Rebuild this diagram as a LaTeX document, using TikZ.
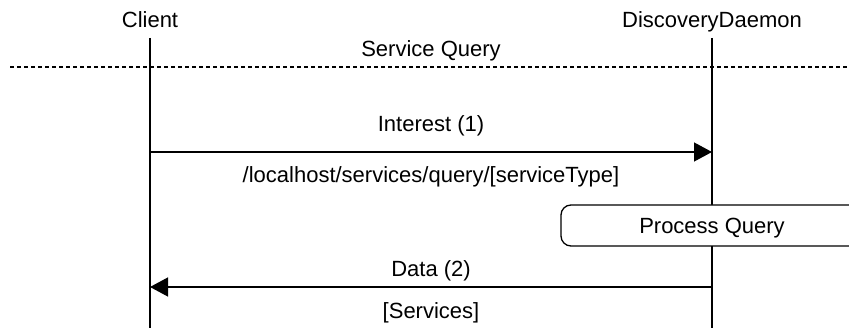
\documentclass[tikz,border=0pt]{standalone}
\usepackage{fontspec}
\setmainfont{Liberation Sans}
\usetikzlibrary{arrows.meta}
\begin{document}
\begin{tikzpicture}[x=1pt,y=-1pt,
  lbl/.style={anchor=base,inner sep=0pt,font=\fontsize{22}{26}\selectfont},
  life/.style={line width=1.3pt},
  msg/.style={line width=1.3pt,-{Triangle[length=18pt,width=19pt]}},
  sep/.style={line width=1.3pt,dash pattern=on 4pt off 3pt},
  actbox/.style={draw,fill=white,line width=1.3pt,rounded corners=10pt}]
  \useasboundingbox (0,0) rectangle (849,328);
  \clip (0,0) rectangle (849,328);

  % participants
  \node[lbl] (client) at (150,28) {Client};
  \node[lbl] (daemon) at (712,28) {DiscoveryDaemon};

  % lifelines
  \coordinate (ctop) at (150,38);
  \coordinate (cbot) at (150,328);
  \coordinate (dtop) at (712,38);
  \coordinate (dbot) at (712,328);
  \draw[life] (ctop) -- (cbot);
  \draw[life] (dtop) -- (dbot);

  % section separator
  \coordinate (sepL) at (10,67);
  \coordinate (sepR) at (849,67);
  \draw[sep] (sepL) -- (sepR);
  \node[lbl] (sq) at (431,57) {Service Query};

  % interest message
  \coordinate (m1s) at (150,152);
  \coordinate (m1e) at (712,152);
  \draw[msg] (m1s) -- (m1e);
  \node[lbl] (m1a) at (431,132) {Interest (1)};
  \node[lbl] (m1b) at (431,183) {/localhost/services/query/[serviceType]};

  % processing box on the daemon lifeline
  \draw[actbox] (561,205) rectangle (863,246);
  \node[lbl] (pq) at (712,234) {Process Query};

  % data message
  \coordinate (m2s) at (712,287);
  \coordinate (m2e) at (150,287);
  \draw[msg] (m2s) -- (m2e);
  \node[lbl] (m2a) at (431,277) {Data (2)};
  \node[lbl] (m2b) at (431,319) {[Services]};
\end{tikzpicture}
\end{document}
